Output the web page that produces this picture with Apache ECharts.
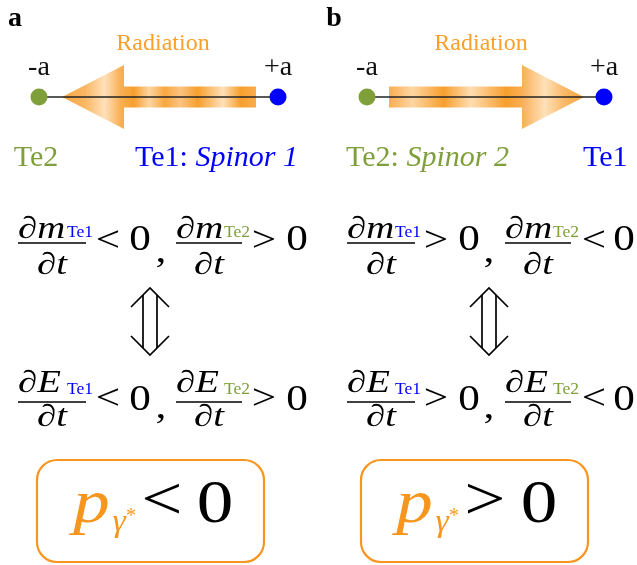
<!DOCTYPE html>
<html>
<head>
<meta charset="utf-8">
<script src="https://cdn.jsdelivr.net/npm/echarts@6/dist/echarts.min.js"></script>
<style>
  html, body { margin: 0; padding: 0; background: #fff; }
  #chart { width: 637px; height: 565px; }
</style>
</head>
<body>
<div id="chart"></div>
<script>
// ---------- data ----------
const panels = ['a', 'b'];
const atomPositions = [-1, 1];            // -a, +a (in units of a)
const atomTicks = ['-a', '+a'];
const atomNames = ['Te2', 'Te1'];
const radiationA = [0.816, -0.807];       // arrow: from, to (panel a, toward -a)
const radiationB = [-0.814, 0.831];       // arrow: from, to (panel b, toward +a)
const quantities = ['∂m', '∂E'];
const species = ['Te1', 'Te2'];
const relationsA = ['<', '>'];            // sign of d/dt for Te1, Te2 in panel a
const relationsB = ['>', '<'];            // panel b
const momentumRel = ['<', '>'];           // p_gamma* sign, panels a, b
const spinorLabels = ['Spinor 1', 'Spinor 2'];

// ---------- styles ----------
const SERIF = '"Liberation Serif", "Times New Roman", "DejaVu Serif", serif';
const GREEN = '#7F9F3A';
const BLUE = '#0000FF';
const ORANGE = '#F7961F';
const ORANGE_TXT = '#F8A02A';

const gradStops = [
  [[0.00,'#F8A032'],[0.12,'#FAB45E'],[0.22,'#FEDFB6'],[0.30,'#F9AC4E'],[0.37,'#F79A22'],[0.45,'#FCD29C'],
   [0.53,'#F8A236'],[0.61,'#FBC07A'],[0.70,'#F79A22'],[0.83,'#FEDFB6'],[0.92,'#F79A22'],[1.00,'#F9A845']],
  [[0.00,'#F9A845'],[0.12,'#FDD49E'],[0.28,'#F79A22'],[0.42,'#FEDBAE'],[0.60,'#F79A22'],[0.68,'#F9AA4C'],
   [0.80,'#FEDFB6'],[0.90,'#FAB45E'],[1.00,'#F8A032']]
];

function arrowRender(panelIdx) {
  return function (params, api) {
    const p0 = api.coord([api.value(0), 0]);
    const p1 = api.coord([api.value(1), 0]);
    const dir = Math.sign(p1[0] - p0[0]);
    const HL = 62, HH = 32, SH = 10.5;
    const y = p0[1];
    const xb = p1[0] - dir * HL;
    const pts = [[p0[0], y - SH], [xb, y - SH], [xb, y - HH], [p1[0], y], [xb, y + HH], [xb, y + SH], [p0[0], y + SH]];
    const xmin = Math.min(p0[0], p1[0]), xmax = Math.max(p0[0], p1[0]);
    const stops = gradStops[panelIdx].map(s => ({ offset: s[0], color: s[1] }));
    return {
      type: 'polygon',
      shape: { points: pts },
      style: { fill: new echarts.graphic.LinearGradient(xmin, 0, xmax, 0, stops, true), opacity: 0.95 }
    };
  };
}

function T(x, y, text, size, o) {
  o = o || {};
  return {
    type: 'text', x: x, y: y, scaleX: o.sx || 1, silent: true, z: 100,
    style: {
      text: text, fill: o.color || '#000',
      fontSize: size, fontFamily: SERIF,
      fontStyle: o.italic ? 'italic' : 'normal',
      fontWeight: o.bold ? 'bold' : 'normal',
      align: o.align || 'center', verticalAlign: 'middle',
      rich: o.rich
    }
  };
}
function L(x1, y1, x2, y2, w) {
  return { type: 'line', silent: true, z: 100, shape: { x1, y1, x2, y2 }, style: { stroke: '#000', lineWidth: w || 1.6 } };
}
function P(points, w) {
  return { type: 'polyline', silent: true, z: 100, shape: { points }, style: { stroke: '#000', lineWidth: w || 1.7, fill: null } };
}

// layout (positions)
const eqLayout = [
  { lineStart: [18, 176], lineEnd: [86, 242], subLeft: [67, 224], relX: [108, 264], zeroX: [140, 297], commaX: 161 },
  { lineStart: [347, 505], lineEnd: [415, 571], subLeft: [395, 553], relX: [436, 594], zeroX: [469, 624], commaX: 489 }
];
const rowY = [
  { num: 230, line: 243, den: 266, sub: 233, rel: 242, zero: 241, comma: 253 },
  { num: 384, line: 402, den: 418, sub: 390, rel: 400, zero: 401, comma: 409 }
];
const dblArrowX = [150, 489];
const boxX = [37, 361];
const boxText = [
  { p: 91.5, g: 119, s: 131, rel: 162, zero: 215 },
  { p: 414.5, g: 442, s: 454, rel: 485, zero: 539 }
];

const graphic = [];
// panel letters & Radiation
graphic.push(T(15, 18.5, panels[0], 28, { bold: true }));
graphic.push(T(334, 18.5, panels[1], 28, { bold: true }));
graphic.push(T(163, 43.7, 'Radiation', 24, { color: ORANGE_TXT }));
graphic.push(T(481, 43.7, 'Radiation', 24, { color: ORANGE_TXT }));

// atom labels
const richN = (c) => ({
  n: { fontSize: 30, fontFamily: SERIF, fill: c },
  i: { fontSize: 30, fontFamily: SERIF, fontStyle: 'italic', fill: c }
});
graphic.push(T(36, 158, atomNames[0], 30, { color: GREEN }));
graphic.push(T(135, 158, '{n|' + atomNames[1] + ': }{i|' + spinorLabels[0] + '}', 30, { color: BLUE, align: 'left', rich: richN(BLUE) }));
graphic.push(T(346, 158, '{n|' + atomNames[0] + ': }{i|' + spinorLabels[1] + '}', 30, { color: GREEN, align: 'left', rich: richN(GREEN) }));
graphic.push(T(583, 158, atomNames[1], 30, { color: BLUE, align: 'left' }));

// equations
const subColors = [BLUE, GREEN];
[relationsA, relationsB].forEach((rels, pi) => {
  const lay = eqLayout[pi];
  quantities.forEach((q, ri) => {
    const ry = rowY[ri];
    species.forEach((sp, k) => {
      const xs = lay.lineStart[k], xe = lay.lineEnd[k];
      graphic.push(T(xs, ry.num, q, 31, { italic: true, align: 'left', sx: 1.25 }));
      graphic.push(L(xs, ry.line, xe, ry.line, 1.7));
      graphic.push(T((xs + xe) / 2, ry.den, '∂t', 31, { italic: true, sx: 1.25 }));
      graphic.push(T(lay.subLeft[k], ry.sub, sp, 16, { align: 'left', color: subColors[k], sx: 1.1 }));
      graphic.push(T(lay.relX[k], ry.rel, rels[k], 36, { sx: 1.2 }));
      graphic.push(T(lay.zeroX[k], ry.zero, '0', 36, { sx: 1.2 }));
    });
    graphic.push(T(lay.commaX, ry.comma, ',', 36, { sx: 1.2 }));
  });
  // double arrow
  const cx = dblArrowX[pi];
  graphic.push(P([[cx - 19, 307], [cx, 288], [cx + 19, 307]]));
  graphic.push(P([[cx - 19, 336], [cx, 355], [cx + 19, 336]]));
  graphic.push(L(cx - 7, 295, cx - 7, 348, 1.7));
  graphic.push(L(cx + 7, 295, cx + 7, 348, 1.7));
  // result box
  graphic.push({ type: 'rect', silent: true, z: 90, shape: { x: boxX[pi], y: 460, width: 227, height: 102, r: 20 },
    style: { fill: null, stroke: ORANGE, lineWidth: 2.2 } });
  const bt = boxText[pi];
  graphic.push(T(bt.p, 506, 'p', 62, { italic: true, color: ORANGE, sx: 1.18 }));
  graphic.push(T(bt.g, 523, 'γ', 32, { italic: true, color: ORANGE, sx: 1.05 }));
  graphic.push(T(bt.s, 517, '*', 20, { color: ORANGE }));
  graphic.push(T(bt.rel, 503, momentumRel[pi], 62, { sx: 1.18 }));
  graphic.push(T(bt.zero, 506, '0', 62, { sx: 1.18 }));
});

// ---------- series ----------
const atomColors = [GREEN, BLUE];
const bond = atomPositions.map(x => [x, 0]);
const series = [];
[radiationA, radiationB].forEach((rad, pi) => {
  series.push({
    type: 'custom', xAxisIndex: pi, yAxisIndex: pi, clip: false, z: 1,
    renderItem: arrowRender(pi), encode: { x: [0, 1] },
    data: [rad]
  });
  series.push({
    type: 'line', xAxisIndex: pi, yAxisIndex: pi, z: 2, symbol: 'none', silent: true,
    lineStyle: { color: '#222', width: 1.3 },
    data: bond
  });
  series.push({
    type: 'scatter', xAxisIndex: pi, yAxisIndex: pi, z: 3, symbolSize: 17, silent: true,
    itemStyle: { color: p => atomColors[p.dataIndex], opacity: 1 },
    label: {
      show: true, position: 'top', distance: 7,
      formatter: p => atomTicks[p.dataIndex],
      fontSize: 28, fontFamily: SERIF, color: '#111'
    },
    data: bond
  });
});

const chart = echarts.init(document.getElementById('chart'), null, { renderer: 'canvas' });
chart.setOption({
  animation: false,
  backgroundColor: '#ffffff',
  grid: [
    { left: 39, top: 65, width: 239, height: 64 },
    { left: 367, top: 65, width: 237, height: 64 }
  ],
  xAxis: [
    { gridIndex: 0, type: 'value', min: -1, max: 1, show: false },
    { gridIndex: 1, type: 'value', min: -1, max: 1, show: false }
  ],
  yAxis: [
    { gridIndex: 0, type: 'value', min: -1, max: 1, show: false },
    { gridIndex: 1, type: 'value', min: -1, max: 1, show: false }
  ],
  series: series,
  graphic: graphic
});
</script>
</body>
</html>
